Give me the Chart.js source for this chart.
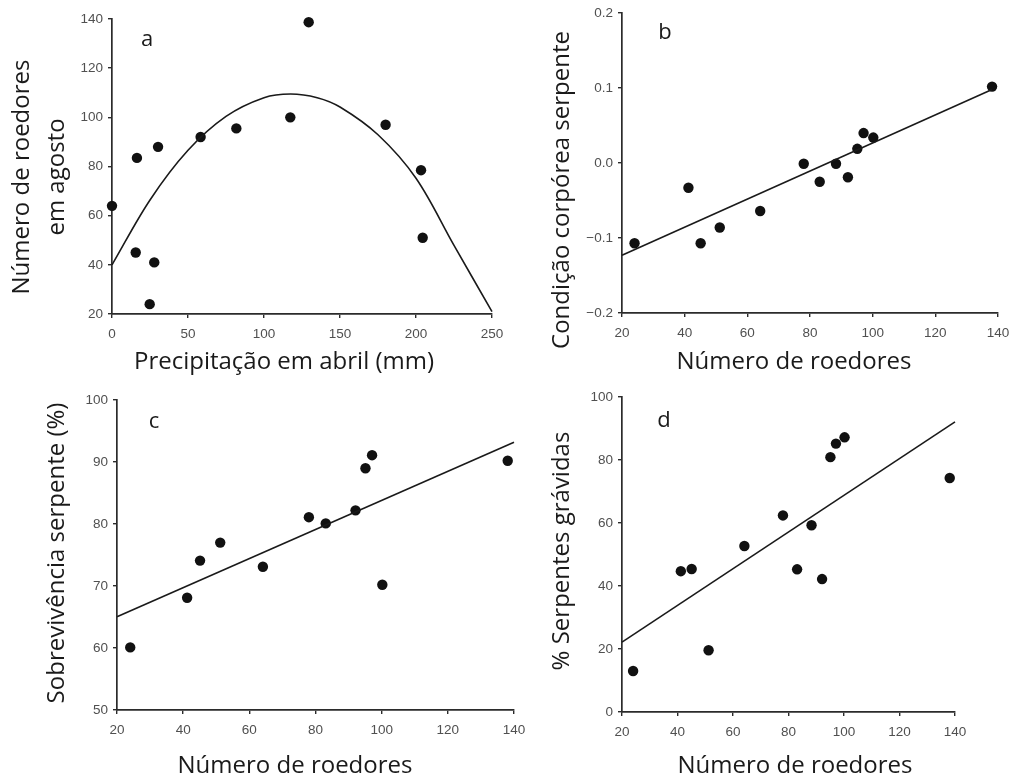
<!DOCTYPE html>
<html>
<head>
<meta charset="utf-8">
<script src="https://cdn.jsdelivr.net/npm/chart.js@4"></script>
<style>
  html, body { margin:0; padding:0; background:#fff; width:1009px; height:778px; overflow:hidden; position:relative; }
  canvas { position:absolute; }
</style>
</head>
<body>
<canvas id="pa"></canvas>
<canvas id="pb"></canvas>
<canvas id="pc"></canvas>
<canvas id="pd"></canvas>
<script>
// panel a — April rainfall vs August rodents (one point per year)
const rainApril   = [0, 15.6, 16.4, 24.8, 27.8, 30.3, 58.3, 81.8, 117.3, 129.4, 180, 203.3, 204.4];
const rodentsAug  = [64, 45, 83.5, 24, 41, 88, 92, 95.5, 100, 138.7, 97, 78.5, 51];
// quadratic fit
const curveRain    = [0, 25, 50, 75, 100, 117.5, 135, 150, 175, 200, 225, 250];
const curveRodents = [40, 66.4, 86.6, 100.4, 108, 109.5, 108, 104.2, 92.9, 75.2, 47.9, 21];

// panels b-d share the rodent count on x
const rodentCount = [24, 41.2, 45.1, 51.2, 64.1, 78, 83.1, 88.3, 92.1, 95.1, 97.1, 100.2, 138.1];
const bodyCond    = [-0.107, -0.033, -0.107, -0.086, -0.064, -0.001, -0.025, -0.001, -0.019, 0.019, 0.040, 0.034, 0.102];
const survival    = [60.1, 68.1, 74.1, 77.0, 73.1, 81.1, 80.1, null, 82.2, 89.0, 91.1, 70.2, 90.2];
const gravid      = [13.0, 44.7, 45.4, 19.6, 52.7, 62.4, 45.3, 59.3, 42.2, 80.9, 85.2, 87.2, 74.3];

// regression lines (end points)
const fitX      = [20, 138.1];
const fitBody   = [-0.123, 0.098];
const fitXc     = [20, 140];
const fitSurv   = [65.05, 93.2];
const fitGravid = [22.2, 92.1];

const ticksBodyCond = ['\u22120.2', '\u22120.1', '0.0', '0.1', '0.2'];

const INK = '#1a1a1a';
const AXIS = '#2b2b2b';
const TICK_TXT = '#505050';
const TITLE_FONT = '24px "Open Sans"';
const LETTER_FONT = '22px "Open Sans"';

const pts = (xs, ys) => xs.map((x, i) => ({x, y: ys[i]})).filter(p => p.y != null);

const panelText = {
  id: 'panelText',
  afterDraw(chart, args, opts) {
    const ctx = chart.ctx;
    (opts.items || []).forEach(t => {
      ctx.save();
      ctx.font = t.font || TITLE_FONT;
      ctx.fillStyle = INK;
      ctx.textAlign = 'center';
      ctx.textBaseline = 'middle';
      ctx.translate(t.x, t.y);
      if (t.rot) ctx.rotate(-Math.PI / 2);
      ctx.fillText(t.text, 0, 0);
      ctx.restore();
    });
  }
};

function axis(min, max, step, labels) {
  return {
    type: 'linear', min, max,
    border: { display:true, color:AXIS, width:1.7 },
    grid: { drawOnChartArea:false, drawTicks:true, tickLength:4, color:AXIS, lineWidth:1.4 },
    ticks: {
      stepSize: step, color: TICK_TXT, padding: 5,
      font: { family:'"Liberation Sans", Arial', size:13.5 },
      callback: (v, i) => labels ? labels[i] : v,
    },
  };
}

// box = canvas rect on the page, area = plot rect on the page
function makePanel(id, box, area, scales, datasets, texts) {
  const cv = document.getElementById(id);
  cv.width = box.w; cv.height = box.h;
  cv.style.left = box.l + 'px'; cv.style.top = box.t + 'px';
  cv.style.width = box.w + 'px'; cv.style.height = box.h + 'px';
  const yw = area.l - box.l;
  const xh = box.t + box.h - area.b;
  scales.x.afterFit = s => { s.height = xh; };
  scales.x.ticks.padding = 8;
  scales.y.afterFit = s => { s.width = yw; };
  new Chart(cv, {
    type: 'scatter',
    data: { datasets },
    options: {
      responsive:false, animation:false, devicePixelRatio:1,
      layout: { padding: { top: area.t - box.t, right: box.l + box.w - area.r, left:0, bottom:0 } },
      plugins: {
        legend:{ display:false }, tooltip:{ enabled:false },
        panelText: { items: texts.map(t => ({...t, x: t.x - box.l, y: t.y - box.t})) },
      },
      scales,
    },
    plugins: [panelText],
  });
}

const dots = data => ({ type:'scatter', data, pointRadius:5.2, pointBackgroundColor:'#111', pointBorderWidth:0, clip:false });
const line = (data, curved) => ({
  type:'line', data, borderColor:INK, borderWidth:1.6, pointRadius:0, fill:false, clip:false,
  tension: curved ? 0.35 : 0,
});

makePanel('pa', {l:0, t:0, w:525, h:390}, {l:112, t:19, r:492, b:314},
  { x: axis(0, 250, 50), y: axis(20, 140, 20) },
  [ line(pts(curveRain, curveRodents), true), dots(pts(rainApril, rodentsAug)) ],
  [ {text:'a', x:147, y:40, font:LETTER_FONT},
    {text:'Precipitação em abril (mm)', x:284, y:362},
    {text:'Número de roedores', x:22, y:177, rot:true},
    {text:'em agosto', x:57, y:177, rot:true} ]);

makePanel('pb', {l:505, t:0, w:530, h:390}, {l:622, t:12, r:998, b:313},
  { x: axis(20, 140, 20), y: axis(-0.2, 0.2, 0.1, ticksBodyCond) },
  [ line(pts(fitX, fitBody)), dots(pts(rodentCount, bodyCond)) ],
  [ {text:'b', x:665, y:33, font:LETTER_FONT},
    {text:'Número de roedores', x:794, y:362},
    {text:'Condição corpórea serpente', x:562, y:190, rot:true} ]);

makePanel('pc', {l:0, t:380, w:545, h:398}, {l:117, t:400, r:514, b:710},
  { x: axis(20, 140, 20), y: axis(50, 100, 10) },
  [ line(pts(fitXc, fitSurv)), dots(pts(rodentCount, survival)) ],
  [ {text:'c', x:154, y:422, font:LETTER_FONT},
    {text:'Número de roedores', x:295, y:766},
    {text:'Sobrevivência serpente (%)', x:57, y:553, rot:true} ]);

makePanel('pd', {l:505, t:380, w:520, h:398}, {l:622, t:397, r:955, b:712},
  { x: axis(20, 140, 20), y: axis(0, 100, 20) },
  [ line(pts(fitXc, fitGravid)), dots(pts(rodentCount, gravid)) ],
  [ {text:'d', x:664, y:421, font:LETTER_FONT},
    {text:'Número de roedores', x:795, y:766},
    {text:'% Serpentes grávidas', x:562, y:551, rot:true} ]);
</script>
</body>
</html>
